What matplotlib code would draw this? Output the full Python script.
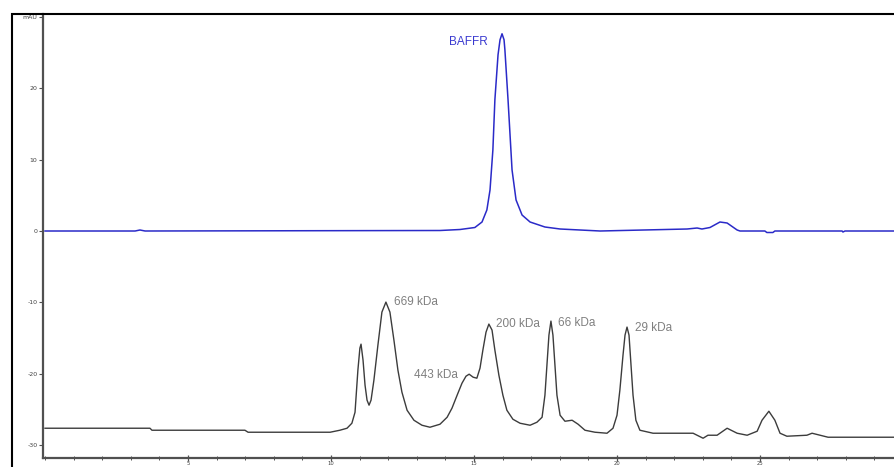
import matplotlib
matplotlib.use("Agg")
import matplotlib.pyplot as plt
import numpy as np
from matplotlib.patches import Rectangle
from matplotlib.ticker import MultipleLocator

# sample trace (blue), time in min, signal in mAU
baffr_trace = [
    (0.0, 0.0), (3.15, 0.0), (3.32, 0.14), (3.50, 0.0), (13.81, 0.07),
    (14.51, 0.21), (15.03, 0.49), (15.28, 1.26), (15.45, 2.95), (15.56, 5.75),
    (15.66, 11.36), (15.73, 18.37), (15.84, 24.68), (15.91, 26.79), (15.98, 27.63),
    (16.05, 26.79), (16.08, 25.39), (16.19, 18.37), (16.33, 8.56), (16.47, 4.35),
    (16.68, 2.24), (16.96, 1.26), (17.48, 0.56), (18.01, 0.28), (18.71, 0.14),
    (19.41, 0.0), (22.45, 0.28), (22.80, 0.42), (22.97, 0.28), (23.25, 0.49),
    (23.60, 1.26), (23.85, 1.12), (24.20, 0.14), (24.30, 0.0), (25.17, 0.0),
    (25.24, -0.21), (25.45, -0.21), (25.52, 0.0), (27.87, 0.0), (27.90, -0.14),
    (27.97, 0.0), (29.72, 0.0),
]

# standards trace (grey)
standards_trace = [
    (0.0, -27.63), (3.67, -27.63), (3.74, -27.91), (6.99, -27.91), (7.10, -28.19),
    (9.97, -28.19), (10.31, -27.91), (10.56, -27.63), (10.73, -26.93), (10.84, -25.39),
    (10.94, -19.50), (11.01, -16.41), (11.05, -15.85), (11.12, -18.09), (11.19, -21.60),
    (11.26, -23.70), (11.33, -24.40), (11.40, -23.70), (11.50, -20.90), (11.64, -15.99),
    (11.78, -11.36), (11.92, -9.96), (12.06, -11.36), (12.20, -15.29), (12.34, -19.50),
    (12.48, -22.58), (12.66, -25.11), (12.90, -26.51), (13.18, -27.21), (13.46, -27.49),
    (13.81, -27.07), (14.06, -26.09), (14.23, -24.82), (14.41, -23.00), (14.58, -21.32),
    (14.72, -20.34), (14.83, -20.06), (14.97, -20.48), (15.10, -20.62), (15.21, -19.21),
    (15.31, -16.69), (15.42, -14.17), (15.52, -13.04), (15.63, -13.88), (15.73, -16.69),
    (15.87, -20.20), (16.01, -23.00), (16.15, -25.11), (16.36, -26.37), (16.61, -26.93),
    (16.96, -27.21), (17.20, -26.79), (17.38, -26.09), (17.48, -23.00), (17.55, -18.79),
    (17.62, -14.59), (17.69, -12.62), (17.76, -14.59), (17.83, -18.79), (17.90, -23.00),
    (18.01, -25.81), (18.18, -26.65), (18.43, -26.51), (18.64, -27.07), (18.88, -27.91),
    (19.23, -28.19), (19.65, -28.33), (19.86, -27.63), (20.00, -25.81), (20.10, -22.30),
    (20.21, -17.39), (20.28, -14.59), (20.35, -13.46), (20.42, -14.59), (20.49, -18.79),
    (20.56, -23.00), (20.66, -26.51), (20.80, -27.91), (21.26, -28.33), (22.66, -28.33),
    (23.01, -29.03), (23.18, -28.61), (23.50, -28.61), (23.85, -27.63), (24.20, -28.33),
    (24.55, -28.61), (24.90, -28.05), (25.07, -26.51), (25.31, -25.25), (25.52, -26.51),
    (25.70, -28.33), (25.94, -28.75), (26.64, -28.61), (26.82, -28.33), (27.38, -28.89),
    (29.72, -28.89),
]

# peak labels: text, time, signal, alignment
peak_labels = [
    ("669 kDa", 12.20, -9.96, "left"),
    ("443 kDa", 14.44, -20.2, "right"),
    ("200 kDa", 15.77, -13.04, "left"),
    ("66 kDa", 17.94, -12.9, "left"),
    ("29 kDa", 20.63, -13.6, "left"),
]

x_ticks = [5, 10, 15, 20, 25]
y_ticks = [-30, -20, -10, 0, 10, 20, 30]
y_ticklabels = ["-30", "-20", "-10", "0", "10", "20", "mAU"]

label_font = ["Liberation Sans", "DejaVu Sans"]
spine_col = "#505050"

fig = plt.figure(figsize=(8.95, 4.67), dpi=100)
W, H = 895, 467
ax = fig.add_axes([43 / W, 9 / H, 1 - 43 / W, (458 - 14) / H])

t1, v1 = np.array(baffr_trace).T
t2, v2 = np.array(standards_trace).T
ax.plot(t1, v1, color="#2a2ac8", lw=1.1)
ax.plot(t2, v2, color="#3c3c3c", lw=1.0)

ax.text(15.49, 26.5, "BAFFR", color="#3a3ad0", fontsize=8.5, family=label_font,
        ha="right", va="center")
for txt, tx, ty, ha in peak_labels:
    ax.text(tx, ty, txt, color="#808080", fontsize=8.5, family=label_font,
            ha=ha, va="center")

ax.set_xlim(-0.07, 29.72)
ax.set_ylim(-31.8, 30.4)
ax.set_xticks(x_ticks)
ax.set_xticklabels([str(x) for x in x_ticks])
ax.xaxis.set_minor_locator(MultipleLocator(1))
ax.set_yticks(y_ticks)
ax.set_yticklabels(y_ticklabels)

for side in ("top", "right"):
    ax.spines[side].set_visible(False)
for side in ("left", "bottom"):
    ax.spines[side].set_color(spine_col)
    ax.spines[side].set_linewidth(1.6)

ax.tick_params(axis="y", which="major", length=3, width=0.8, color=spine_col,
               labelsize=4.5, labelcolor="#404040", pad=1)
ax.tick_params(axis="x", which="major", length=4, width=0.9, color=spine_col,
               direction="inout", labelsize=3.8, labelcolor="#404040", pad=0)
ax.tick_params(axis="x", which="minor", length=3, width=0.7, color=spine_col,
               direction="inout")

# outer frame of the report page
fig.patches.append(Rectangle((12 / W, -0.1), 1.2, 1.1 - 14 / H,
                             transform=fig.transFigure, fill=False,
                             edgecolor="black", lw=1.5))

fig.savefig("out.png", dpi=100)
